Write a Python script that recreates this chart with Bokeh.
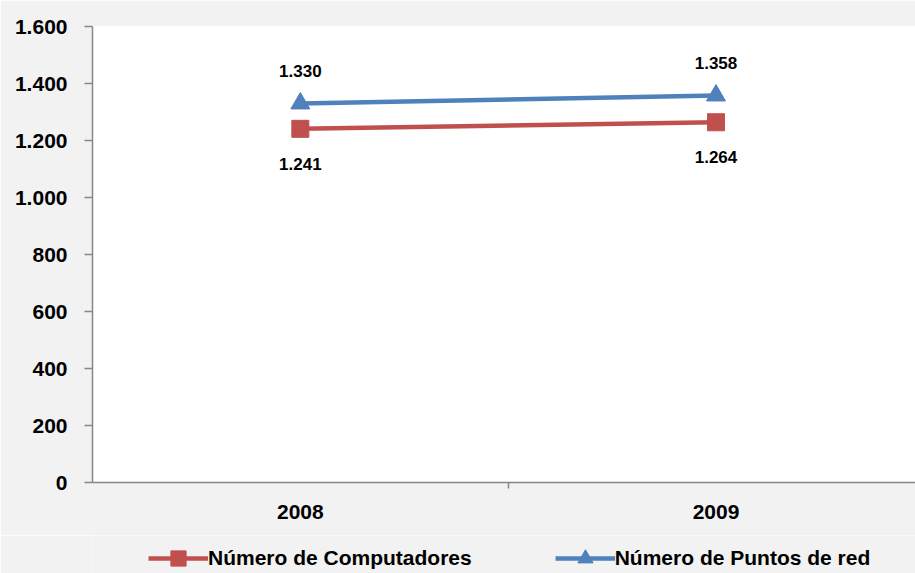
from bokeh.plotting import figure
from bokeh.layouts import column
from bokeh.models import (Range1d, FixedTicker, LinearAxis, Legend, LegendItem,
                          ColumnDataSource, LabelSet)
from bokeh.core.properties import value
from bokeh.embed import file_html
from bokeh.resources import INLINE

years = ["2008", "2009"]
computadores = [1241, 1264]
puntos_red = [1330, 1358]
y_ticks = [0, 200, 400, 600, 800, 1000, 1200, 1400, 1600]
series_names = ["Número de Computadores", "Número de Puntos de red"]

def fmt(v):
    return f"{v:,}".replace(",", ".")

FONT = "Liberation Sans"
RED = "#C0504D"
BLUE = "#4F81BD"
GRAY = "#868686"
BG = "#f2f2f2"

xpos = [i + 0.5 for i in range(len(years))]

p = figure(width=915, height=535, output_backend="svg", toolbar_location=None,
           x_range=Range1d(0, 1.98), y_range=Range1d(0, 1600),
           x_axis_type=None, y_axis_type=None,
           min_border_left=92, min_border_top=26, min_border_right=0,
           min_border_bottom=53)
p.border_fill_color = BG
p.background_fill_color = "white"
p.outline_line_color = None
p.xgrid.visible = False
p.ygrid.visible = False

yaxis = LinearAxis(ticker=FixedTicker(ticks=y_ticks, minor_ticks=[]),
                   major_label_overrides={t: fmt(t) for t in y_ticks})
yaxis.axis_line_color = GRAY
yaxis.axis_line_width = 1.5
yaxis.major_tick_line_color = GRAY
yaxis.major_tick_line_width = 1.5
yaxis.major_tick_in = 0
yaxis.major_tick_out = 8
yaxis.minor_tick_line_color = None
yaxis.major_label_standoff = 17
yaxis.major_label_text_font = FONT
yaxis.major_label_text_font_style = "bold"
yaxis.major_label_text_font_size = "21px"
yaxis.major_label_text_color = "black"
p.add_layout(yaxis, "left")

xaxis = LinearAxis(ticker=FixedTicker(ticks=xpos, minor_ticks=list(range(1, len(years) + 1))),
                   major_label_overrides={x: y for x, y in zip(xpos, years)})
xaxis.axis_line_color = GRAY
xaxis.axis_line_width = 1.5
xaxis.major_tick_line_color = None
xaxis.major_tick_in = 0
xaxis.major_tick_out = 0
xaxis.minor_tick_line_color = GRAY
xaxis.minor_tick_line_width = 1.5
xaxis.minor_tick_in = 0
xaxis.minor_tick_out = 6
xaxis.major_label_standoff = 16
xaxis.major_label_text_font = FONT
xaxis.major_label_text_font_style = "bold"
xaxis.major_label_text_font_size = "21px"
xaxis.major_label_text_color = "black"
p.add_layout(xaxis, "below")

src = ColumnDataSource(dict(x=xpos, comp=computadores, red=puntos_red,
                            comp_lbl=[fmt(v) for v in computadores],
                            red_lbl=[fmt(v) for v in puntos_red]))

def draw_series(fig):
    l1 = fig.line("x", "comp", source=src, line_color=RED, line_width=4.5)
    m1 = fig.scatter("x", "comp", source=src, marker="square", size=17,
                     fill_color=RED, line_color=RED)
    l2 = fig.line("x", "red", source=src, line_color=BLUE, line_width=4.5)
    m2 = fig.scatter("x", "red", source=src, marker="triangle", size=19,
                     fill_color=BLUE, line_color=BLUE)
    return l1, m1, l2, m2

draw_series(p)

lab1 = LabelSet(x="x", y="comp", text="comp_lbl", source=src, y_offset=-35,
                text_align="center", text_baseline="middle",
                text_font=value(FONT), text_font_style="bold",
                text_font_size="17px", text_color="black")
lab2 = LabelSet(x="x", y="red", text="red_lbl", source=src, y_offset=32,
                text_align="center", text_baseline="middle",
                text_font=value(FONT), text_font_style="bold",
                text_font_size="17px", text_color="black")
p.add_layout(lab1)
p.add_layout(lab2)

# legend strip below the chart (series drawn out of view, only the legend shows)
q = figure(width=915, height=38, output_backend="svg", toolbar_location=None,
           x_range=Range1d(0, 1), y_range=Range1d(0, 1),
           x_axis_type=None, y_axis_type=None,
           min_border_left=0, min_border_right=0, min_border_top=0,
           min_border_bottom=0)
q.border_fill_color = BG
q.background_fill_color = BG
q.outline_line_color = None
q.xgrid.visible = False
q.ygrid.visible = False
ql1, qm1, ql2, qm2 = draw_series(q)

legend = Legend(items=[LegendItem(label=series_names[0], renderers=[ql1, qm1]),
                       LegendItem(label=series_names[1], renderers=[ql2, qm2])],
                orientation="horizontal", location=(56, -4))
legend.background_fill_alpha = 0
legend.border_line_color = None
legend.glyph_width = 60
legend.glyph_height = 38
legend.spacing = 83
legend.label_standoff = 0
legend.padding = 0
legend.margin = 0
legend.label_text_font = FONT
legend.label_text_font_style = "bold"
legend.label_text_font_size = "21px"
legend.label_text_color = "black"
q.add_layout(legend, "center")

layout = column(p, q, spacing=0)
html = file_html(layout, INLINE)
html = html.replace("<body>", '<body style="background:#f2f2f2">', 1)
open("out.html", "w").write(html)
